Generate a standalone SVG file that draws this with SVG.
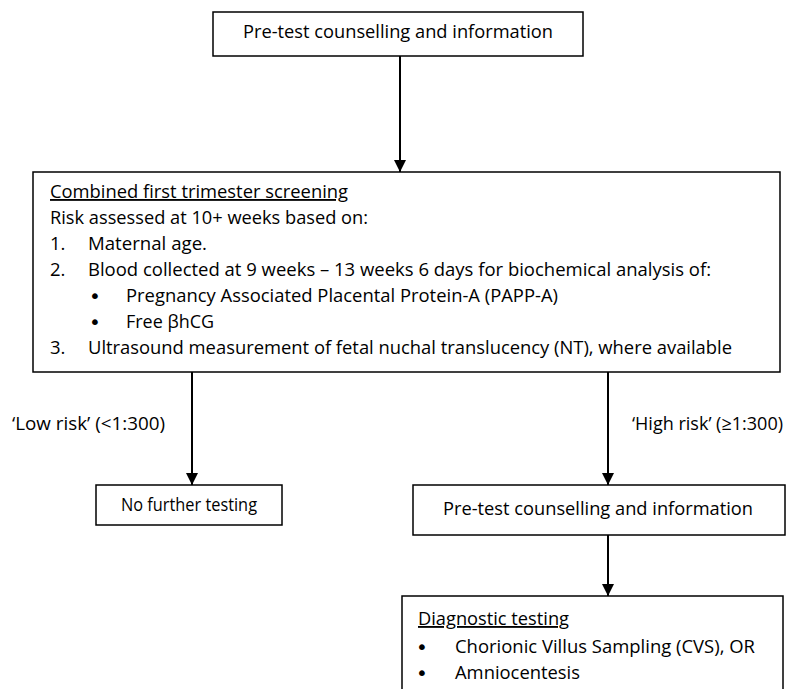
<svg xmlns="http://www.w3.org/2000/svg" width="798" height="689" viewBox="0 0 798 689">
<style>
.box{fill:#fff;stroke:#000;stroke-width:1.5}
.t{font-family:"Open Sans","Noto Sans",sans-serif;font-size:18.5px;fill:#000}
.b{font-family:"DejaVu Sans",sans-serif;font-size:20px;fill:#000}
.u{text-decoration:underline}
.ln{stroke:#000;stroke-width:2;fill:none}
</style>
<defs>
<marker id="ah" markerWidth="14" markerHeight="14" refX="12" refY="6" orient="auto" markerUnits="userSpaceOnUse">
<path d="M0,0 L12,6 L0,12 z" fill="#000"/>
</marker>
</defs>
<rect width="798" height="689" fill="#fff"/>
<g id="connectors">
<line class="ln" x1="400" y1="56" x2="400" y2="172" marker-end="url(#ah)"/>
<line class="ln" x1="192" y1="372" x2="192" y2="485" marker-end="url(#ah)"/>
<line class="ln" x1="608" y1="372" x2="608" y2="485" marker-end="url(#ah)"/>
<line class="ln" x1="608" y1="535" x2="608" y2="596" marker-end="url(#ah)"/>
<text class="t" x="12" y="430" textLength="153" lengthAdjust="spacingAndGlyphs">‘Low risk’ (&lt;1:300)</text>
<text class="t" x="632" y="430" textLength="151" lengthAdjust="spacingAndGlyphs">‘High risk’ (≥1:300)</text>
</g>
<g id="n1">
<rect class="box" x="213" y="12" width="370" height="44"/>
<text class="t" x="243" y="38" textLength="310" lengthAdjust="spacingAndGlyphs">Pre-test counselling and information</text>
</g>
<g id="n2">
<rect class="box" x="33" y="172" width="747" height="200"/>
<text class="t u" x="50" y="198" textLength="298" lengthAdjust="spacingAndGlyphs">Combined first trimester screening</text>
<text class="t" x="50" y="224" textLength="318" lengthAdjust="spacingAndGlyphs">Risk assessed at 10+ weeks based on:</text>
<text class="t" x="50" y="250">1.</text>
<text class="t" x="88" y="250" textLength="119" lengthAdjust="spacingAndGlyphs">Maternal age.</text>
<text class="t" x="50" y="276">2.</text>
<text class="t" x="88" y="276" textLength="623" lengthAdjust="spacingAndGlyphs">Blood collected at 9 weeks – 13 weeks 6 days for biochemical analysis of:</text>
<text class="b" x="89" y="303">•</text>
<text class="t" x="126" y="302" textLength="432" lengthAdjust="spacingAndGlyphs">Pregnancy Associated Placental Protein-A (PAPP-A)</text>
<text class="b" x="89" y="329">•</text>
<text class="t" x="126" y="328" textLength="88" lengthAdjust="spacingAndGlyphs">Free βhCG</text>
<text class="t" x="50" y="354">3.</text>
<text class="t" x="88" y="354" textLength="644" lengthAdjust="spacingAndGlyphs">Ultrasound measurement of fetal nuchal translucency (NT), where available</text>
</g>
<g id="n3">
<rect class="box" x="96" y="485" width="186" height="40"/>
<text class="t" x="121" y="511" textLength="136" lengthAdjust="spacingAndGlyphs">No further testing</text>
</g>
<g id="n4">
<rect class="box" x="413" y="485" width="372" height="50"/>
<text class="t" x="443" y="515" textLength="310" lengthAdjust="spacingAndGlyphs">Pre-test counselling and information</text>
</g>
<g id="n5">
<rect class="box" x="402" y="596" width="381" height="110"/>
<text class="t u" x="418" y="625" textLength="151" lengthAdjust="spacingAndGlyphs">Diagnostic testing</text>
<text class="b" x="416" y="654">•</text>
<text class="t" x="455" y="653" textLength="300" lengthAdjust="spacingAndGlyphs">Chorionic Villus Sampling (CVS), OR</text>
<text class="b" x="416" y="680">•</text>
<text class="t" x="455" y="679" textLength="125" lengthAdjust="spacingAndGlyphs">Amniocentesis</text>
</g>
</svg>
